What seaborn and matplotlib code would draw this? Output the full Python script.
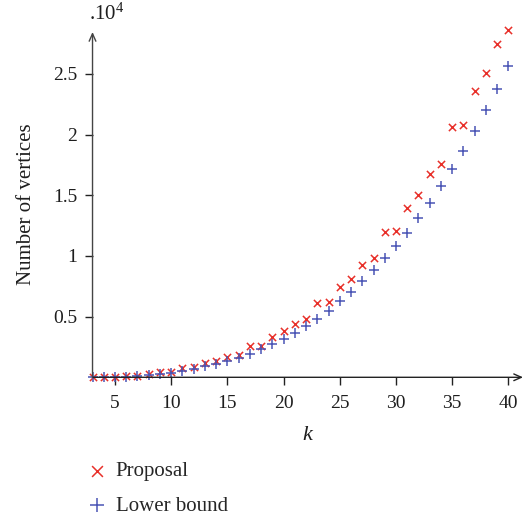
import matplotlib
matplotlib.use("Agg")
import matplotlib.pyplot as plt
import seaborn as sns
import numpy as np
import pandas as pd

k = list(range(3, 41))
proposal = [20, 30, 50, 70, 100, 270, 410, 440, 790, 820, 1160, 1370, 1700, 1870,
            2560, 2590, 3300, 3800, 4430, 4820, 6110, 6170, 7430, 8120, 9250, 9870,
            11950, 12060, 13960, 15060, 16740, 17590, 20620, 20780, 23570, 25110,
            27420, 28600]
lower_bound = [10, 20, 40, 60, 100, 160, 300, 380, 520, 660, 910, 1120, 1350, 1590,
               1920, 2310, 2730, 3170, 3660, 4240, 4840, 5500, 6280, 7050, 7900, 8800,
               9850, 10820, 11920, 13100, 14400, 15740, 17150, 18670, 20290, 22020,
               23760, 25660]
xticks = [5, 10, 15, 20, 25, 30, 35, 40]
yticks = [5000, 10000, 15000, 20000, 25000]
ytick_labels = ["0.5", "1", "1.5", "2", "2.5"]
series_names = ["Proposal", "Lower bound"]

sns.set_theme(style="white")
plt.rcParams["font.family"] = ["Liberation Serif", "DejaVu Serif"]
plt.rcParams["mathtext.fontset"] = "custom"
plt.rcParams["mathtext.rm"] = "Liberation Serif"
plt.rcParams["mathtext.it"] = "Liberation Serif:italic"

FS_T = 14
FS_L = 15
red = "#e8302a"
blue = "#4a55b5"
axc = "#222222"
txt = "#1e1e1e"

fig = plt.figure(figsize=(5.29, 5.16), dpi=100)
ax = fig.add_axes([0.1749, 0.2688, 0.8138, 0.6692])

sns.scatterplot(x=k, y=proposal, marker="x", color=red, s=27, linewidth=1.1,
                label=series_names[0], ax=ax, clip_on=False, zorder=3)
sns.scatterplot(x=k, y=lower_bound, marker="+", color=blue, s=45, linewidth=1.1,
                label=series_names[1], ax=ax, clip_on=False, zorder=3)

ax.set_xlim(3, 41.3)
ax.set_ylim(0, 28450)

for s in ax.spines.values():
    s.set_visible(False)

ax.annotate("", xy=(1.0, 0), xytext=(0, 0), xycoords="axes fraction",
            arrowprops=dict(arrowstyle="->,head_length=0.45,head_width=0.2",
                            color=axc, lw=1.0, shrinkA=0, shrinkB=0))
ax.annotate("", xy=(0, 1.0), xytext=(0, 0), xycoords="axes fraction",
            arrowprops=dict(arrowstyle="->,head_length=0.45,head_width=0.2",
                            color="#444444", lw=1.0, shrinkA=0, shrinkB=0))

ax.set_xticks(xticks)
ax.set_xticklabels([str(t) for t in xticks])
ax.set_yticks(yticks)
ax.set_yticklabels(ytick_labels)
ax.tick_params(axis="x", which="major", direction="out", length=6, width=1.0,
               color=axc, labelsize=FS_T, labelcolor=txt, pad=7, bottom=True)
ax.tick_params(axis="y", which="major", direction="out", length=6, width=1.0,
               color=axc, labelsize=FS_T, labelcolor=txt, pad=5, left=True)

ax.set_xlabel("$k$", fontsize=FS_L + 1, labelpad=10, color=txt)
ax.set_ylabel("Number of vertices", fontsize=FS_L, labelpad=12, color=txt)

fig.text(0.168, 0.972, ".10$^4$", fontsize=FS_L, color=txt, ha="left", va="center")

fig.legend(handles=ax.get_legend_handles_labels()[0], labels=series_names,
           loc="upper left", bbox_to_anchor=(0.1437, 0.121), frameon=False,
           fontsize=FS_L, handletextpad=0.3, labelspacing=0.7, handlelength=1.2,
           borderaxespad=0, markerscale=1.5)
ax.get_legend().remove()

fig.savefig("out.png", dpi=100)
